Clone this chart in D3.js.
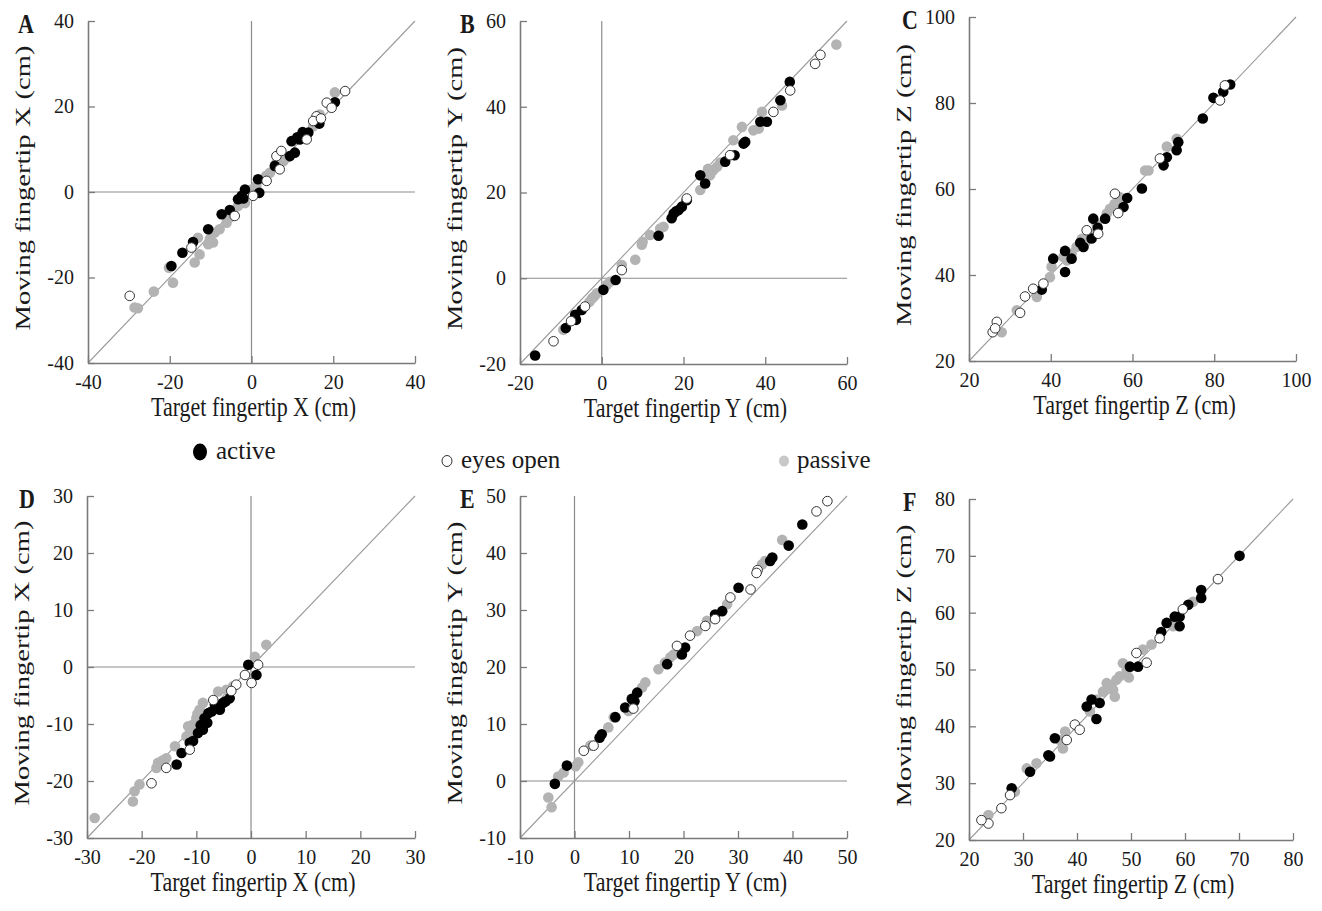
<!DOCTYPE html>
<html>
<head>
<meta charset="utf-8">
<script src="https://cdn.jsdelivr.net/npm/d3@7"></script>
<style>
  body { margin: 0; background: #fff; }
  svg { display: block; }
</style>
</head>
<body>
<div id="chart"></div>
<script>
// ---- data (target, moving) in cm ----
const seriesNames = ["active", "eyes open", "passive"];

const A_active = [[20.4,21.0],[16.6,16.0],[13.9,13.9],[12.7,13.1],[11.8,12.3],[9.8,11.9],[10.6,9.2],[9.4,8.4],[5.7,6.1],[1.6,3.0],[1.9,-0.2],[-1.6,0.6],[-2.4,-0.9],[-3.3,-1.7],[-5.3,-4.2],[-7.3,-5.2],[-10.6,-8.7],[-14.3,-11.7],[-16.9,-14.2],[-19.6,-17.3],[12.5,14.0],[11.2,12.8],[-2.0,-1.5],[13.2,12.6]];
const A_open = [[22.9,23.6],[18.4,20.9],[19.6,19.7],[15.9,17.7],[15.1,16.6],[13.5,12.3],[6.1,8.4],[7.3,9.6],[6.9,5.3],[3.7,2.6],[0.4,-0.9],[-4.1,-5.6],[-14.7,-13.0],[-29.8,-24.3],[17.0,17.2]];
const A_passive = [[20.4,23.3],[16.7,18.1],[15.1,15.4],[8.6,8.0],[6.1,6.8],[4.5,4.5],[2.9,3.0],[1.2,1.4],[0,0.6],[-2.9,-1.7],[-3.3,-3.3],[-4.5,-4.8],[-6.1,-7.2],[-7.8,-8.7],[-9.0,-9.5],[-10.2,-11.0],[-9.4,-11.8],[-10.6,-12.2],[-13.1,-10.7],[-12.7,-14.6],[-13.9,-16.5],[-20.2,-17.7],[-19.2,-21.2],[-23.9,-23.3],[-28.6,-27.0],[-27.8,-27.2],[3.6,3.8],[-5.4,-6.0],[-1.6,-2.6],[7.8,7.2]];

const B_active = [[46.0,45.8],[40.4,36.5],[38.8,36.5],[35.1,31.8],[34.7,31.4],[32.5,28.7],[30.2,27.2],[24.1,24.0],[25.3,22.1],[20.8,18.2],[19.6,16.7],[18.8,15.9],[17.6,15.1],[17.1,14.0],[13.9,9.9],[3.4,-0.4],[0.4,-2.7],[-4.9,-7.4],[-6.5,-8.5],[-6.3,-9.7],[-8.8,-11.6],[-16.3,-18.0],[43.7,41.5],[18.2,15.6]];
const B_open = [[53.5,52.1],[52.2,50.0],[46.1,43.8],[42.0,38.8],[20.8,18.6],[4.9,1.9],[-4.1,-6.6],[-11.8,-14.7],[31.4,28.7],[-7.5,-10.0]];
const B_passive = [[57.4,54.5],[44.1,40.3],[39.2,38.8],[38.4,34.9],[37.1,34.5],[34.3,35.3],[32.2,32.2],[28.2,26.0],[27.3,25.2],[26.5,24.0],[24.1,20.6],[15.1,12.0],[14.3,11.6],[11.8,10.1],[9.8,7.8],[8.2,4.3],[4.9,3.1],[2.0,-0.8],[1.2,-1.6],[-1.2,-3.5],[-2.4,-4.7],[-9.4,-12.0],[29.0,27.0],[26.0,25.5],[10.0,8.5],[-3.0,-5.5],[-1.8,-4.2]];

const C_active = [[83.9,84.3],[82.2,82.6],[79.8,81.2],[77.2,76.4],[70.8,69.0],[71.2,70.9],[68.4,67.4],[67.6,65.5],[62.3,60.1],[58.7,57.9],[57.8,55.8],[53.3,53.1],[50.4,53.1],[50.0,48.5],[48.0,46.5],[45.1,43.8],[43.5,45.6],[40.6,43.8],[43.5,40.7],[37.8,36.6],[47.2,47.5],[51.5,51.0]];
const C_open = [[82.6,84.1],[81.4,80.6],[66.7,67.1],[55.7,58.9],[56.5,54.4],[51.6,49.6],[48.8,50.4],[35.7,36.8],[33.7,35.0],[32.5,31.2],[26.8,29.1],[25.8,26.7],[38.2,38.0],[26.4,27.6]];
const C_passive = [[70.8,71.7],[68.4,69.9],[63.1,64.3],[63.9,64.3],[56.9,58.1],[54.5,55.4],[53.7,54.3],[51.2,51.9],[49.6,49.6],[47.6,48.4],[46.3,46.5],[45.1,45.0],[43.1,44.2],[39.8,39.5],[40.2,41.9],[36.6,34.9],[31.7,31.8],[28.0,26.7],[44.0,43.4],[48.5,47.6],[55.6,56.5]];

const D_active = [[1.0,-1.4],[-0.5,0.4],[-3.9,-5.5],[-5.1,-6.3],[-5.7,-7.5],[-6.6,-6.6],[-7.8,-8.1],[-8.5,-9.0],[-8.8,-11.0],[-9.7,-11.6],[-10.6,-13.0],[-11.2,-13.3],[-12.7,-15.1],[-13.6,-17.1],[-7.2,-7.8],[-9.2,-10.2],[-4.6,-6.0],[-8.0,-9.8]];
const D_open = [[1.3,0.4],[0.1,-2.8],[-1.1,-1.4],[-2.7,-3.1],[-6.9,-5.8],[-11.2,-14.5],[-15.5,-17.7],[-18.2,-20.4],[-3.6,-4.2]];
const D_passive = [[2.8,3.9],[0.7,1.8],[-3.3,-3.4],[-4.5,-4.0],[-6.0,-4.3],[-8.8,-6.3],[-9.4,-7.5],[-10.0,-9.0],[-10.6,-10.1],[-11.2,-11.6],[-11.8,-12.2],[-13.9,-13.9],[-15.5,-16.0],[-17.0,-16.8],[-17.3,-17.7],[-20.4,-20.6],[-21.3,-21.8],[-21.6,-23.6],[-28.6,-26.5],[-9.8,-8.2],[-10.8,-10.8],[-9.0,-8.6],[-11.5,-10.4],[-16.2,-16.4]];

const E_active = [[41.8,45.0],[39.3,41.3],[36.3,39.2],[35.9,38.6],[30.1,33.9],[27.1,29.8],[25.8,29.2],[20.3,23.4],[19.7,22.2],[17.0,20.5],[11.5,15.5],[10.5,14.4],[9.3,12.9],[7.5,11.2],[5.0,8.2],[4.6,7.6],[-1.4,2.7],[-3.6,-0.5],[11.0,14.0]];
const E_open = [[46.4,49.1],[44.4,47.3],[33.6,37.0],[33.4,36.5],[32.3,33.6],[28.6,32.2],[25.8,28.4],[24.0,27.2],[21.2,25.5],[18.8,23.7],[1.7,5.3],[3.5,6.2],[10.8,12.7]];
const E_passive = [[38.1,42.3],[34.4,38.0],[35.0,38.6],[28.0,31.0],[24.3,28.1],[22.5,26.3],[17.6,21.7],[18.2,22.2],[15.4,19.6],[13.0,17.3],[12.4,16.4],[9.9,12.3],[7.2,11.2],[6.2,9.4],[2.9,6.2],[0.7,3.3],[-2.0,1.5],[-3.6,-0.5],[-4.8,-2.9],[-4.2,-4.6],[-3.0,0.8],[0.2,2.6],[16.6,20.8]];

const F_active = [[70.1,70.0],[63.0,64.0],[63.0,62.6],[60.6,61.4],[59.0,59.3],[58.1,59.3],[59.0,57.6],[56.6,58.2],[55.6,56.6],[51.3,50.5],[49.8,50.5],[44.2,44.1],[42.7,44.7],[43.6,41.3],[41.8,43.5],[35.0,34.7],[35.9,37.9],[31.3,32.0],[27.9,29.1],[34.7,34.9]];
const F_open = [[66.1,65.9],[59.6,60.6],[55.3,55.5],[52.9,51.2],[51.0,52.9],[39.6,40.3],[40.5,39.4],[38.1,37.6],[26.0,25.6],[23.6,22.9],[22.3,23.5],[27.6,27.9]];
const F_passive = [[61.5,61.9],[57.8,57.6],[53.8,54.4],[52.2,53.5],[48.5,51.1],[49.2,49.9],[47.9,48.8],[46.7,46.4],[47.3,48.2],[45.5,47.6],[47.0,45.2],[44.8,46.1],[43.6,44.7],[42.4,42.6],[37.8,39.1],[37.4,36.1],[36.8,37.6],[32.5,33.5],[30.7,32.6],[28.5,28.5],[23.6,24.4],[49.6,48.6],[46.2,47.2]];

const panelLetters = ["A", "B", "C", "D", "E", "F"];
const axisLetters = ["X", "Y", "Z", "X", "Y", "Z"];
const domains = [[-40, 40], [-20, 60], [20, 100], [-30, 30], [-10, 50], [20, 80]];
const tickValues = [
    [-40, -20, 0, 20, 40],
    [-20, 0, 20, 40, 60],
    [20, 40, 60, 80, 100],
    [-30, -20, -10, 0, 10, 20, 30],
    [-10, 0, 10, 20, 30, 40, 50],
    [20, 30, 40, 50, 60, 70, 80]
];
const panelData = [
    [A_active, A_open, A_passive],
    [B_active, B_open, B_passive],
    [C_active, C_open, C_passive],
    [D_active, D_open, D_passive],
    [E_active, E_open, E_passive],
    [F_active, F_open, F_passive]
];

// ---- layout (plot box of each panel, pixels) ----
const boxes = [
    {x0: 88, x1: 415, y0: 21, y1: 363, lx: 18},
    {x0: 520, x1: 847, y0: 21, y1: 364, lx: 460},
    {x0: 969, x1: 1296, y0: 17, y1: 361, lx: 902},
    {x0: 87, x1: 415, y0: 496, y1: 838, lx: 19},
    {x0: 520, x1: 847, y0: 496, y1: 838, lx: 460},
    {x0: 969, x1: 1293, y0: 499, y1: 840, lx: 903}
];

const serif = "'Liberation Serif', 'Times New Roman', serif";
const axisColor = "#7a7a7a";
const styles = [
    {fill: "#000", stroke: "none", r: 5.3},
    {fill: "#fff", stroke: "#333", r: 4.8},
    {fill: "#b3b3b3", stroke: "none", r: 5.3}
];

const svg = d3.select("#chart").append("svg")
    .attr("width", 1322)
    .attr("height", 911)
    .style("background", "#fff");

panelData.forEach((series, i) => {
    let b = boxes[i];
    let x = d3.scaleLinear().domain(domains[i]).range([b.x0, b.x1]);
    let y = d3.scaleLinear().domain(domains[i]).range([b.y1, b.y0]);
    let g = svg.append("g");

    // zero lines
    if (domains[i][0] < 0) {
        g.append("line")
            .attr("x1", x(0)).attr("x2", x(0))
            .attr("y1", b.y1).attr("y2", b.y0)
            .attr("stroke", "#8c8c8c").attr("stroke-width", 1.2);
        g.append("line")
            .attr("x1", b.x0).attr("x2", b.x1)
            .attr("y1", y(0)).attr("y2", y(0))
            .attr("stroke", "#8c8c8c").attr("stroke-width", 1.2);
    }

    // identity line
    g.append("line")
        .attr("x1", x(domains[i][0])).attr("y1", y(domains[i][0]))
        .attr("x2", x(domains[i][1])).attr("y2", y(domains[i][1]))
        .attr("stroke", "#9a9a9a").attr("stroke-width", 1.1);

    // axes
    let xAxis = d3.axisBottom(x).tickValues(tickValues[i]).tickSizeInner(-7).tickSizeOuter(0)
        .tickPadding(12).tickFormat(d => String(d));
    let yAxis = d3.axisLeft(y).tickValues(tickValues[i]).tickSizeInner(-7).tickSizeOuter(0)
        .tickPadding(14).tickFormat(d => String(d));

    [[xAxis, `translate(0,${b.y1})`], [yAxis, `translate(${b.x0},0)`]].forEach(([ax, tr]) => {
        let a = g.append("g").attr("transform", tr).call(ax);
        a.select(".domain").attr("stroke", axisColor).attr("stroke-width", 1.6);
        a.selectAll(".tick line").attr("stroke", axisColor).attr("stroke-width", 1.3);
        a.selectAll(".tick text")
            .attr("font-family", serif)
            .attr("font-size", 20)
            .attr("fill", "#1a1a1a");
    });

    // points: passive first, then active, then eyes open on top
    [2, 0, 1].forEach(k => {
        g.append("g").selectAll("circle")
            .data(series[k])
            .enter().append("circle")
            .attr("cx", d => x(d[0]))
            .attr("cy", d => y(d[1]))
            .attr("r", styles[k].r)
            .attr("fill", styles[k].fill)
            .attr("stroke", styles[k].stroke)
            .attr("stroke-width", 1);
    });

    // titles
    g.append("text")
        .attr("transform", `translate(${(b.x0 + b.x1) / 2 + 2},${b.y1 + 53}) scale(1,1.22)`)
        .attr("text-anchor", "middle")
        .attr("font-family", serif)
        .attr("font-size", 22)
        .attr("fill", "#1a1a1a")
        .text(`Target fingertip ${axisLetters[i]} (cm)`);

    g.append("text")
        .attr("transform", `translate(${b.x0 - 58},${(b.y0 + b.y1) / 2 - 4}) rotate(-90) scale(1.3,1)`)
        .attr("text-anchor", "middle")
        .attr("font-family", serif)
        .attr("font-size", 22)
        .attr("fill", "#1a1a1a")
        .text(`Moving fingertip ${axisLetters[i]} (cm)`);

    g.append("text")
        .attr("transform", `translate(${b.lx},${b.y0 + 12}) scale(1,1.2)`)
        .attr("font-family", serif)
        .attr("font-size", 22)
        .attr("font-weight", "bold")
        .attr("fill", "#1a1a1a")
        .text(panelLetters[i]);
});

// legend
const legendPos = [
    {mx: 200, my: 452, tx: 216, ty: 459},
    {mx: 447, my: 461, tx: 461, ty: 468},
    {mx: 784, my: 461, tx: 797, ty: 468}
];
const legendMarks = [
    {rx: 7, ry: 8.5, fill: "#000", stroke: "none"},
    {rx: 5, ry: 5.5, fill: "#fff", stroke: "#333"},
    {rx: 5, ry: 5.5, fill: "#c8c8c8", stroke: "none"}
];
const legend = svg.append("g");
seriesNames.forEach((name, k) => {
    let p = legendPos[k];
    legend.append("ellipse")
        .attr("cx", p.mx).attr("cy", p.my)
        .attr("rx", legendMarks[k].rx).attr("ry", legendMarks[k].ry)
        .attr("fill", legendMarks[k].fill)
        .attr("stroke", legendMarks[k].stroke);
    legend.append("text")
        .attr("x", p.tx).attr("y", p.ty)
        .attr("font-family", serif)
        .attr("font-size", 25)
        .attr("fill", "#1a1a1a")
        .text(name);
});
</script>
</body>
</html>
